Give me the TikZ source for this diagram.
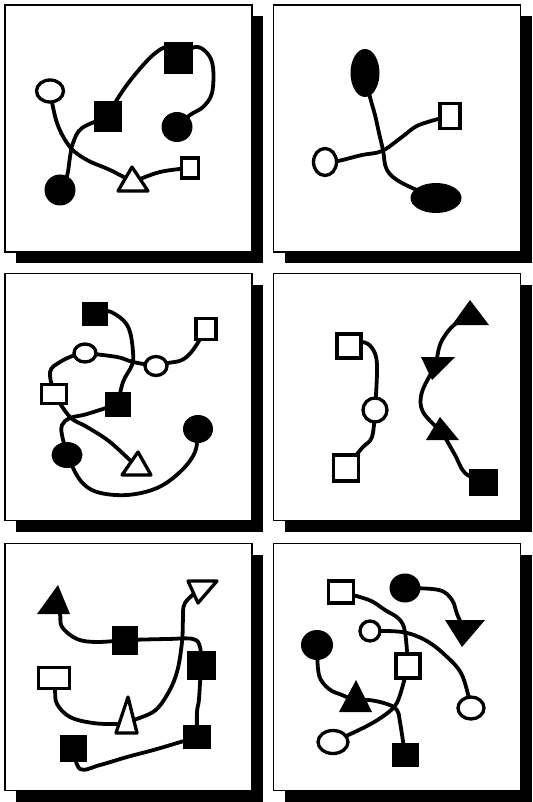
\documentclass[tikz,border=0pt]{standalone}
\usetikzlibrary{shapes.geometric}
\pgfdeclarelayer{bg}\pgfdeclarelayer{mid}
\pgfsetlayers{bg,mid,main}
\begin{document}
\begin{tikzpicture}[x=1pt,y=-1pt,
  sz/.style 2 args={minimum width=#1pt, minimum height=#2pt},
  conn/.style={line width=3.8pt, line cap=round, line join=round},
  osq/.style={rectangle, draw, fill=white, line width=3.3pt, inner sep=0pt, outer sep=0pt},
  oel/.style={ellipse, draw, fill=white, line width=3.3pt, inner sep=0pt, outer sep=0pt},
  fsq/.style={rectangle, fill=black, inner sep=0pt, outer sep=0pt},
  fel/.style={ellipse, fill=black, inner sep=0pt, outer sep=0pt},
  otri/.style={draw, fill=white, line width=3.3pt, line join=round},
  ftri/.style={fill=black},
  frame/.style={draw, fill=white, line width=1.8pt},
  sm/.style={smooth, tension=0.6}]
\useasboundingbox (0,0) rectangle (532,802);
\begin{pgfonlayer}{bg}
\foreach \px/\py in {5/5, 273.5/5, 5/273.5, 273.5/273.5, 5/543.5, 273.5/543.5}{
  \fill (\px+11,\py+11) rectangle (\px+258,\py+258);
  \draw[frame] (\px,\py) rectangle (\px+247,\py+247);
}
\end{pgfonlayer}

% ---------- panel 1 ----------
\node[oel, sz={27}{22}] (a1) at (50,91) {};
\node[fsq, sz={28}{31}] (a2) at (108,117) {};
\node[fsq, sz={29}{32}] (a3) at (178,58) {};
\node[fel, sz={31}{30}] (a4) at (177,127) {};
\node[fel, sz={31}{31}] (a5) at (60,190) {};
\coordinate (a6) at (133,182);
\draw[otri] (132,167) -- (148,191) -- (118,191) -- cycle;
\node[osq, sz={17}{20}] (a7) at (190,168) {};
\begin{pgfonlayer}{mid}
\draw[conn] plot[sm] coordinates {(a1.center) (57,123) (70,147) (87,160) (110,170) (a6)};
\draw[conn] plot[sm] coordinates {(a6) (160,172) (a7.center)};
\draw[conn] plot[sm] coordinates {(a5.center) (67,176) (70,157) (73,143) (82,128) (a2.center)};
\draw[conn] plot[sm] coordinates {(a2.center) (118,98) (133,77) (153,55) (168,47) (a3.center)};
\draw[conn] plot[sm] coordinates {(a3.center) (195,47) (207,53) (213,67) (212,93) (203,107) (190,115) (a4.center)};
\end{pgfonlayer}

% ---------- panel 2 ----------
\node[fel, sz={29}{48}] (b1) at (365,73) {};
\node[osq, sz={20}{25}] (b2) at (450,116) {};
\node[oel, sz={23}{27}] (b3) at (325,162) {};
\node[fel, sz={51}{30}] (b4) at (436,198) {};
\begin{pgfonlayer}{mid}
\draw[conn] plot[sm] coordinates {(b1.center) (370,97) (375,115) (379,133) (383,150) (387,170) (402,183) (b4.center)};
\draw[conn] plot[sm] coordinates {(b3.center) (338,161) (362,155) (382,151) (402,137) (419,125) (b2.center)};
\end{pgfonlayer}

% ---------- panel 3 ----------
\node[fsq, sz={26}{24}] (c1) at (95,314) {};
\node[osq, sz={20}{21}] (c2) at (206,329) {};
\node[oel, sz={22}{18}] (c3) at (85,353) {};
\node[oel, sz={22}{19}] (c4) at (156,366) {};
\node[osq, sz={25}{19}] (c5) at (54,394) {};
\node[fsq, sz={26}{25}] (c6) at (118,404) {};
\node[fel, sz={30}{28}] (c7) at (198,429) {};
\node[fel, sz={31}{26}] (c8) at (67,455) {};
\coordinate (c9) at (137,467);
\draw[otri] (138,452) -- (151,475) -- (122,475) -- cycle;
\begin{pgfonlayer}{mid}
\draw[conn] plot[sm] coordinates {(c1.center) (108,311) (123,320) (130,332) (133,352) (132,365) (123,382) (c6.center)};
\draw[conn] plot[sm] coordinates {(c3.center) (117,357) (133,362) (c4.center)};
\draw[conn] plot[sm] coordinates {(c4.center) (168,363) (182,360) (193,350) (c2.center)};
\draw[conn] plot[sm] coordinates {(c3.center) (75,355) (60,362) (50,372) (c5.center)};
\draw[conn] plot[sm] coordinates {(c5.center) (70,417) (87,427) (110,442) (c9)};
\draw[conn] plot[sm] coordinates {(c6.center) (87,414) (70,418) (62,425) (62,435) (c8.center)};
\draw[conn] plot[sm] coordinates {(c8.center) (80,480) (97,492) (127,495) (157,488) (180,472) (195,452) (c7.center)};
\end{pgfonlayer}

% ---------- panel 4 ----------
\node[osq, sz={24}{24}] (d1) at (349,346) {};
\node[oel, sz={24}{24}] (d2) at (375,410) {};
\node[osq, sz={25}{26}] (d3) at (346,468) {};
\coordinate (d4) at (470,316);
\fill[ftri] (470,300) -- (489,325) -- (452,325) -- cycle;
\coordinate (d5) at (436,365);
\fill[ftri] (421,357) -- (455,357) -- (432,380) -- cycle;
\coordinate (d6) at (442,432);
\fill[ftri] (440,417) -- (459,440) -- (426,440) -- cycle;
\node[fsq, sz={29}{27}] (d7) at (483,482) {};
\begin{pgfonlayer}{mid}
\draw[conn] plot[sm] coordinates {(d1.center) (362,342) (372,348) (377,365) (d2.center)};
\draw[conn] plot[sm] coordinates {(d2.center) (372,437) (362,448) (d3.center)};
\draw[conn] plot[sm] coordinates {(d4) (454,325) (444,337) (439,348) (d5)};
\draw[conn] plot[sm] coordinates {(d5) (422,392) (423,412) (d6)};
\draw[conn] plot[sm] coordinates {(d6) (455,455) (465,473) (d7.center)};
\end{pgfonlayer}

% ---------- panel 5 ----------
\coordinate (e1) at (55,604);
\fill[ftri] (58,585) -- (70,614) -- (37,614) -- cycle;
\coordinate (e2) at (201,588);
\draw[otri] (188,581) -- (217,581) -- (198,603) -- cycle;
\node[fsq, sz={26}{29}] (e3) at (125,640) {};
\node[fsq, sz={29}{29}] (e4) at (201,665) {};
\node[osq, sz={31}{21}] (e5) at (54,678) {};
\coordinate (e6) at (127,722);
\draw[otri] (128,697) -- (137,733) -- (116,733) -- cycle;
\node[fsq, sz={27}{27}] (e7) at (73,748) {};
\node[fsq, sz={28}{24}] (e8) at (197,737) {};
\begin{pgfonlayer}{mid}
\draw[conn] plot[sm] coordinates {(e1) (60,614) (62,627) (77,639) (97,642) (e3.center)};
\draw[conn] plot[sm] coordinates {(e3.center) (167,639) (193,639) (200,647) (e4.center)};
\draw[conn] plot[sm] coordinates {(e4.center) (199,699) (197,712) (e8.center)};
\draw[conn] plot[sm] coordinates {(e8.center) (157,749) (127,757) (100,765) (80,769) (e7.center)};
\draw[conn] plot[sm] coordinates {(e5.center) (55,690) (57,704) (70,717) (93,723) (118,724) (e6)};
\draw[conn] plot[sm] coordinates {(e6) (153,712) (167,695) (177,672) (182,642) (183,619) (185,603) (e2)};
\end{pgfonlayer}

% ---------- panel 6 ----------
\node[osq, sz={25}{22}] (f1) at (341,592) {};
\node[fel, sz={31}{29}] (f2) at (405,588) {};
\coordinate (f3) at (464,629);
\fill[ftri] (445,620) -- (485,620) -- (462,647) -- cycle;
\node[oel, sz={20}{20}] (f4) at (370,631) {};
\node[fel, sz={32}{30}] (f5) at (317,645) {};
\node[osq, sz={24}{24}] (f6) at (408,666) {};
\coordinate (f7) at (356,701);
\fill[ftri] (356,680) -- (372,712) -- (339,712) -- cycle;
\node[oel, sz={26}{22}] (f8) at (471,708) {};
\node[oel, sz={30}{23}] (f9) at (333,742) {};
\node[fsq, sz={27}{24}] (f10) at (405,755) {};
\begin{pgfonlayer}{mid}
\draw[conn] plot[sm] coordinates {(f2.center) (439,590) (452,600) (457,614) (f3)};
\draw[conn] plot[sm] coordinates {(f1.center) (369,600) (385,610) (399,619) (405,632) (f6.center)};
\draw[conn] plot[sm] coordinates {(f4.center) (402,632) (425,640) (445,655) (462,675) (f8.center)};
\draw[conn] plot[sm] coordinates {(f5.center) (319,675) (329,689) (342,695) (f7)};
\draw[conn] plot[sm] coordinates {(f7) (369,700) (387,704) (397,710) (400,722) (f10.center)};
\draw[conn] plot[sm] coordinates {(f6.center) (400,695) (394,707) (382,717) (365,727) (f9.center)};
\end{pgfonlayer}
\end{tikzpicture}
\end{document}
